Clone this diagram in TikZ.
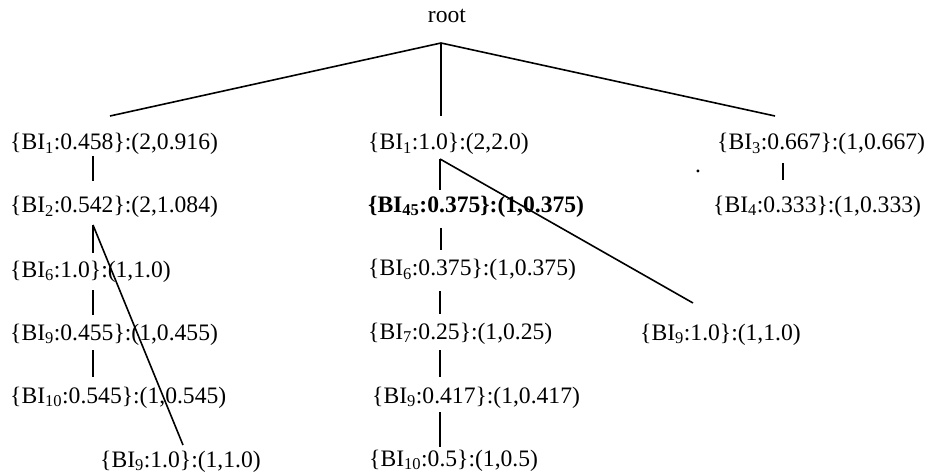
\documentclass[tikz,border=0pt]{standalone}
\usepackage{fontspec}
\setmainfont{Liberation Serif}
\newcommand\BIs[1]{BI\textsubscript{#1}}
\begin{document}
\begin{tikzpicture}[x=1pt,y=-1pt,
  lbl/.style={anchor=base west, inner sep=0pt, font=\fontsize{23.6}{28}\selectfont},
  edge/.style={line width=1.6pt}]
\useasboundingbox (0,0) rectangle (930,476);
% nodes
\node[lbl, anchor=base] (root) at (447,23) {root};
\node[lbl] (L1) at (10,150) {\{\BIs{1}:0.458\}:(2,0.916)};
\node[lbl] (L2) at (10,213) {\{\BIs{2}:0.542\}:(2,1.084)};
\node[lbl] (L3) at (10,277) {\{\BIs{6}:1.0\}:(1,1.0)};
\node[lbl] (L4) at (10,340) {\{\BIs{9}:0.455\}:(1,0.455)};
\node[lbl] (L5) at (10,403) {\{\BIs{10}:0.545\}:(1,0.545)};
\node[lbl] (L6) at (100,467) {\{\BIs{9}:1.0\}:(1,1.0)};
\node[lbl] (M1) at (368,150) {\{\BIs{1}:1.0\}:(2,2.0)};
\node[lbl, font=\fontsize{23.6}{28}\selectfont\bfseries] (M2) at (368,212) {\{\BIs{45}:0.375\}:(1,0.375)};
\node[lbl] (M3) at (368,276) {\{\BIs{6}:0.375\}:(1,0.375)};
\node[lbl] (M4) at (368,339) {\{\BIs{7}:0.25\}:(1,0.25)};
\node[lbl] (M5) at (372,403) {\{\BIs{9}:0.417\}:(1,0.417)};
\node[lbl] (M6) at (369,466) {\{\BIs{10}:0.5\}:(1,0.5)};
\node[lbl] (R1) at (717,150) {\{\BIs{3}:0.667\}:(1,0.667)};
\node[lbl] (R2) at (713,212) {\{\BIs{4}:0.333\}:(1,0.333)};
\node[lbl] (N9) at (640,340) {\{\BIs{9}:1.0\}:(1,1.0)};
\node[lbl, anchor=base] (dot) at (698,173) {.};
% connector end points
\coordinate (rt) at (441,43);
\coordinate (L1t) at (110,116);
\coordinate (M1t) at (441,116);
\coordinate (R1t) at (775,116);
\coordinate (L1b) at (93,156);  \coordinate (L2t) at (93,181);
\coordinate (L2b) at (93,225);  \coordinate (L3t) at (93,253);
\coordinate (L3b) at (93,290);  \coordinate (L4t) at (93,315);
\coordinate (L4b) at (93,350);  \coordinate (L5t) at (93,377);
\coordinate (L6t) at (183,445);
\coordinate (M1b) at (440,159); \coordinate (M2t) at (440,190);
\coordinate (M2b) at (441,228); \coordinate (M3t) at (441,250);
\coordinate (M3b) at (440,291); \coordinate (M4t) at (440,314);
\coordinate (M4b) at (440,350); \coordinate (M5t) at (440,377);
\coordinate (M5b) at (440,412); \coordinate (M6t) at (440,447);
\coordinate (N9t) at (693,303);
\coordinate (R1b) at (783,163); \coordinate (R2t) at (783,180);
% connectors
\draw[edge] (L1t) -- (rt) -- (R1t);
\draw[edge] (rt) -- (M1t);
\draw[edge] (L1b) -- (L2t);
\draw[edge] (L2b) -- (L3t);
\draw[edge] (L3b) -- (L4t);
\draw[edge] (L4b) -- (L5t);
\draw[edge] (L2b) -- (L6t);
\draw[edge] (M1b) -- (M2t);
\draw[edge] (M1b) -- (N9t);
\draw[edge] (M2b) -- (M3t);
\draw[edge] (M3b) -- (M4t);
\draw[edge] (M4b) -- (M5t);
\draw[edge] (M5b) -- (M6t);
\draw[edge] (R1b) -- (R2t);
\end{tikzpicture}
\end{document}
